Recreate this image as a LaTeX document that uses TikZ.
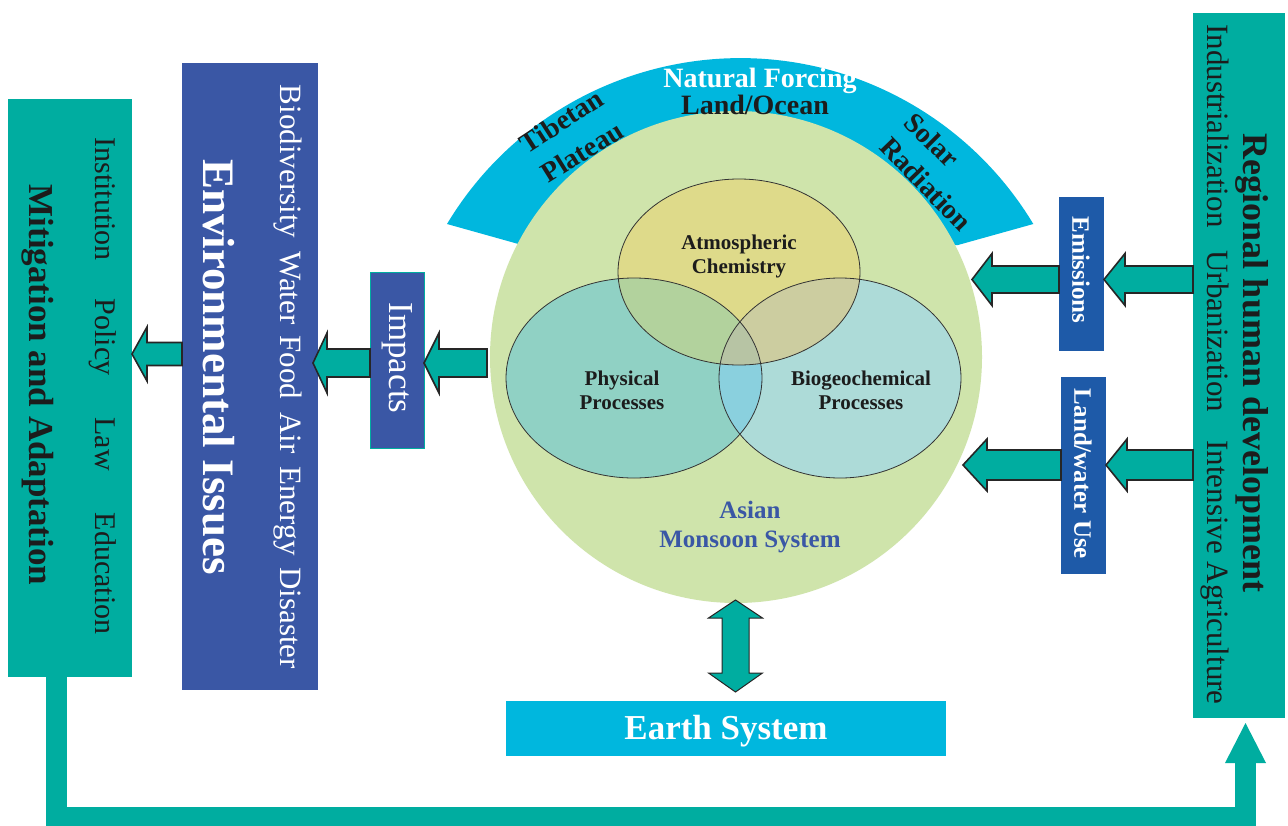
\documentclass[tikz,border=0pt]{standalone}
\usepackage{fontspec}
\setmainfont{Liberation Serif}
\usetikzlibrary{calc,shapes.geometric}
\definecolor{cteal}{RGB}{0,173,160}
\definecolor{cblue}{RGB}{58,87,165}
\definecolor{cbluetwo}{RGB}{30,90,168}
\definecolor{ccyan}{RGB}{0,183,222}
\definecolor{cgreen}{RGB}{207,228,171}
\definecolor{cAtm}{RGB}{222,218,138}
\definecolor{cPhys}{RGB}{144,209,196}
\definecolor{cBio}{RGB}{173,219,216}
\definecolor{cPA}{RGB}{178,210,157}
\definecolor{cAB}{RGB}{204,205,160}
\definecolor{cPAB}{RGB}{183,196,164}
\definecolor{cPB}{RGB}{138,208,222}
\definecolor{ctext}{RGB}{28,28,28}
\definecolor{cmon}{RGB}{58,87,165}
\newcommand{\fsz}[1]{\fontsize{#1}{#1}\selectfont}
% horizontal block arrow pointing left: tail, tip, shaft half, head half, head length
\newcommand{\blockarrowleft}[5]{%
  \draw[barrow] let \p1=#1, \p2=#2 in
    (\x1,\y1+#3pt) -- (\x2+#5pt,\y1+#3pt) -- (\x2+#5pt,\y1+#4pt) -- (\x2,\y1)
    -- (\x2+#5pt,\y1-#4pt) -- (\x2+#5pt,\y1-#3pt) -- (\x1,\y1-#3pt) -- cycle;}
\tikzset{
  box/.style={draw=none, inner sep=0pt, outer sep=0pt},
  txt/.style={inner sep=0pt, outer sep=0pt, align=center},
  barrow/.style={fill=cteal, draw=black!85, line width=1.6pt, line join=miter},
  ell/.style={draw=black!80, line width=0.8pt},
  fbline/.style={draw=cteal, line width=21pt, line join=miter, line cap=butt},
}
\begin{document}
\begin{tikzpicture}[x=1pt,y=-1pt]
\useasboundingbox (0,0) rectangle (1288,825);
\fill[white] (0,0) rectangle (1288,825);

% ---------- boxes ----------
\node[box, fill=cteal, minimum width=124pt, minimum height=578pt] (mit) at (70,388) {};
\node[box, fill=cblue, minimum width=136pt, minimum height=627pt] (env) at (250,376.5) {};
\node[box, fill=cblue, draw=cteal, line width=0.8pt, minimum width=54pt, minimum height=176pt] (imp) at (397,360) {};
\node[box, fill=cbluetwo, minimum width=45pt, minimum height=154pt] (emi) at (1081.5,274) {};
\node[box, fill=cbluetwo, minimum width=45pt, minimum height=197pt] (luse) at (1083.5,475.5) {};
\node[box, fill=cteal, minimum width=92pt, minimum height=705pt] (reg) at (1239,365) {};
\node[box, fill=ccyan, minimum width=440pt, minimum height=55pt] (earth) at (726,728.5) {};

% ---------- natural forcing band ----------
\fill[ccyan] (447,224) arc[start angle=149, end angle=31, radius=342pt] -- (958,245) -- (522,245) -- cycle;

% ---------- Asian monsoon circle ----------
\node[circle, fill=cgreen, draw=none, inner sep=0pt, minimum size=492pt] (asia) at (736,357) {};

% ellipses
\fill[cPhys] (634,378) ellipse[x radius=128pt, y radius=100pt];
\fill[cBio] (840,378) ellipse[x radius=121pt, y radius=100pt];
\fill[cAtm] (739,272) ellipse[x radius=121pt, y radius=93pt];
\begin{scope}
  \clip (634,378) ellipse[x radius=128pt, y radius=100pt];
  \fill[cPB] (840,378) ellipse[x radius=121pt, y radius=100pt];
  \fill[cPA] (739,272) ellipse[x radius=121pt, y radius=93pt];
\end{scope}
\begin{scope}
  \clip (840,378) ellipse[x radius=121pt, y radius=100pt];
  \fill[cAB] (739,272) ellipse[x radius=121pt, y radius=93pt];
\end{scope}
\begin{scope}
  \clip (634,378) ellipse[x radius=128pt, y radius=100pt];
  \clip (840,378) ellipse[x radius=121pt, y radius=100pt];
  \fill[cPAB] (739,272) ellipse[x radius=121pt, y radius=93pt];
\end{scope}
\node[ellipse, ell, minimum width=256pt, minimum height=200pt, inner sep=0pt] (phys) at (634,378) {};
\node[ellipse, ell, minimum width=242pt, minimum height=200pt, inner sep=0pt] (bio) at (840,378) {};
\node[ellipse, ell, minimum width=242pt, minimum height=186pt, inner sep=0pt] (atm) at (739,272) {};

\node[txt, font=\bfseries\fsz{21}, text=ctext] (atmt) at (739,256) {Atmospheric\\[3pt]Chemistry};
\node[txt, font=\bfseries\fsz{21}, text=ctext] (physt) at (622,390) {Physical\\[3pt]Processes};
\node[txt, font=\bfseries\fsz{21}, text=ctext] (biot) at (861,390) {Biogeochemical\\[3pt]Processes};
\node[txt, font=\bfseries\fsz{25}, text=cmon] (mont) at (750,527) {Asian\\[4pt]Monsoon System};

% band labels
\node[txt, font=\bfseries\fsz{28}, text=white] (nf) at (760,81) {Natural Forcing};
\node[txt, font=\bfseries\fsz{28}, text=ctext] (lo) at (755,105) {Land/Ocean};
\node[txt, font=\bfseries\fsz{28}, text=ctext, rotate=33] (tib) at (561,121) {Tibetan};
\node[txt, font=\bfseries\fsz{28}, text=ctext, rotate=32] (pla) at (582,152) {Plateau};
\node[txt, font=\bfseries\fsz{28}, text=ctext, rotate=-45] (sol) at (932,140) {Solar};
\node[txt, font=\bfseries\fsz{28}, text=ctext, rotate=-46] (rad) at (926,184) {Radiation};

% ---------- box texts ----------
\node[txt, rotate=-90, font=\bfseries\fsz{35}, text=ctext] (mitt) at (38,385) {Mitigation and Adaptation};
\node[txt, rotate=-90, font=\fsz{30}, text=ctext] (mitl) at (103,386) {Institution\hspace{38pt}Policy\hspace{42pt}Law\hspace{42pt}Education};
\node[txt, rotate=-90, font=\bfseries\fsz{45}, text=white] (envt) at (219,367) {Environmental Issues};
\node[txt, rotate=-90, font=\fsz{31}, text=white] (envl) at (288,377) {Biodiversity\hspace{13pt}Water\hspace{11pt}Food\hspace{13pt}Air\hspace{13pt}Energy\hspace{12pt}Disaster};
\node[txt, rotate=-90, font=\fsz{35}, text=white] (impt) at (397,358) {Impacts};
\node[txt, rotate=-90, font=\bfseries\fsz{25}, text=white] (emit) at (1081,270) {Emissions};
\node[txt, rotate=-90, font=\bfseries\fsz{25}, text=white] (luset) at (1083,474) {Land/water Use};
\node[txt, rotate=-90, font=\bfseries\fsz{36}, text=ctext] (regt) at (1252,363) {Regional human development};
\node[txt, rotate=-90, font=\fsz{31}, text=ctext] (regl) at (1215,364.5) {Industrialization\hspace{23pt}Urbanization\hspace{28pt}Intensive Agriculture};
\node[txt, font=\bfseries\fsz{35}, text=white] (eartht) at (726,731) {Earth System};

% ---------- block arrows ----------
\coordinate (ya) at (0,354);
\coordinate (yb) at (0,363);
\coordinate (yc) at (0,279.5);
\coordinate (yd) at (0,465);
\coordinate (impin) at (487,363);
\coordinate (emiout) at (972,279.5);
\coordinate (luseout) at (963,465);
\blockarrowleft{(env.west |- ya)}{(mit.east |- ya)}{11.5}{27}{15}
\blockarrowleft{(imp.west |- yb)}{(313,363)}{14}{30}{14}
\blockarrowleft{(impin)}{(imp.east |- yb)}{14}{30}{15}
\blockarrowleft{(emi.west |- yc)}{(emiout)}{13.5}{26}{20}
\blockarrowleft{(reg.west |- yc)}{(emi.east |- yc)}{13.5}{26}{21}
\blockarrowleft{(luse.west |- yd)}{(luseout)}{15}{26}{24}
\blockarrowleft{(reg.west |- yd)}{(luse.east |- yd)}{15}{26}{21}

% vertical double arrow between monsoon system and earth system
\coordinate (dtop) at (735.5,600);
\coordinate (dbot) at (735.5,692);
\draw[barrow, line width=1pt] let \p1=(dtop), \p2=(dbot) in
  (\x1,\y1) -- (\x1+27pt,\y1-18pt) -- (\x1+13.5pt,\y1-18pt) -- (\x1+13.5pt,\y2+19pt)
  -- (\x1+27pt,\y2+19pt) -- (\x2,\y2) -- (\x1-27pt,\y2+19pt) -- (\x1-13.5pt,\y2+19pt)
  -- (\x1-13.5pt,\y1-18pt) -- (\x1-27pt,\y1-18pt) -- cycle;

% ---------- feedback loop ----------
\coordinate (fbL) at (56,817);
\coordinate (fbR) at (1245.5,817);
\coordinate (fbH) at (1245.5,762);
\coordinate (fbTip) at (1245.5,723);
\draw[fbline] (mit.south -| fbL) -- (fbL) -- (fbR) -- (fbH);
\fill[cteal] (fbTip) -- (1266,763) -- (1225,763) -- cycle;
\end{tikzpicture}
\end{document}
